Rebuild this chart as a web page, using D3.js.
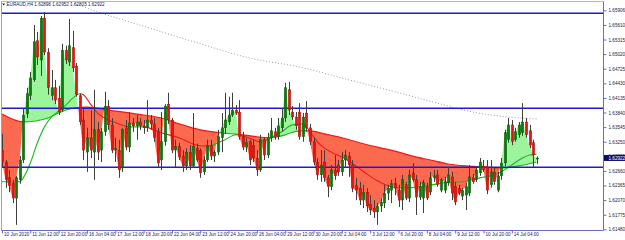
<!DOCTYPE html>
<html>
<head>
<meta charset="utf-8">
<script src="https://cdnjs.cloudflare.com/ajax/libs/d3/7.8.5/d3.min.js"></script>
<style>
  body { margin: 0; background: #fff; }
  svg { display: block; }
  text { font-family: 'Liberation Sans', Arial, sans-serif; }
</style>
</head>
<body>
<div id="chart"></div>
<script>
/**************************
*   EURAUD H4 CANDLES     *
**************************/

var symbol = "EURAUD,H4";
var lastQuote = [1.62898, 1.62952, 1.62805, 1.62922];

var timeLabels = ["10 Jun 2020", "11 Jun 12:00", "12 Jun 20:00", "16 Jun 04:00", "17 Jun 12:00",
  "18 Jun 20:00", "22 Jun 04:00", "23 Jun 12:00", "24 Jun 20:00", "26 Jun 04:00", "29 Jun 12:00",
  "30 Jun 20:00", "2 Jul 04:00", "3 Jul 12:00", "6 Jul 20:00", "8 Jul 04:00", "9 Jul 12:00",
  "10 Jul 20:00", "14 Jul 04:00"];

var priceTicks = [1.65906, 1.65610, 1.65315, 1.65020, 1.64725, 1.64430, 1.64135, 1.63840,
  1.63545, 1.63250, 1.62955, 1.62660, 1.62365, 1.62070, 1.61775, 1.61480];

// horizontal lines drawn on the chart
var levels = [1.65845, 1.63925, 1.62733];

var opens = [
  1.6308,1.6284,1.6252,1.6240,1.6211,1.6248,1.6288,1.6381,1.6418,1.6450,
  1.6529,1.6490,1.6575,1.6506,1.6418,1.6434,1.6413,1.6389,1.6510,1.6486,
  1.6515,1.6478,1.6418,1.6369,1.6304,1.6333,1.6304,1.6349,1.6308,1.6345,
  1.6397,1.6359,1.6308,1.6308,1.6272,1.6353,1.6314,1.6363,1.6357,1.6365,
  1.6357,1.6353,1.6369,1.6361,1.6345,1.6288,1.6325,1.6401,1.6369,1.6308,
  1.6316,1.6296,1.6276,1.6304,1.6276,1.6312,1.6308,1.6264,1.6288,1.6318,
  1.6296,1.6304,1.6333,1.6353,1.6365,1.6379,1.6389,1.6385,1.6335,1.6314,
  1.6325,1.6318,1.6292,1.6268,1.6329,1.6298,1.6333,1.6345,1.6335,1.6353,
  1.6373,1.6430,1.6385,1.6375,1.6385,1.6335,1.6383,1.6353,1.6325,1.6284,
  1.6258,1.6284,1.6252,1.6234,1.6268,1.6278,1.6264,1.6288,1.6296,1.6278,
  1.6236,1.6231,1.6207,1.6223,1.6199,1.6191,1.6183,1.6195,1.6201,1.6221,
  1.6227,1.6240,1.6227,1.6207,1.6238,1.6211,1.6262,1.6248,1.6213,1.6211,
  1.6234,1.6223,1.6252,1.6258,1.6227,1.6227,1.6242,1.6254,1.6234,1.6231,
  1.6215,1.6217,1.6221,1.6252,1.6248,1.6262,1.6276,1.6274,1.6238,1.6264,
  1.6227,1.6256,1.6282,1.6329,1.6359,1.6329,1.6339,1.6343,1.6365,1.6347,
  1.6323,1.62898];

var highs = [
  1.6341,1.6288,1.6268,1.6248,1.6256,1.6296,1.6393,1.6434,1.6466,1.6561,
  1.6547,1.6579,1.6587,1.6514,1.6470,1.6450,1.6438,1.6523,1.6519,1.6573,
  1.6549,1.6484,1.6422,1.6393,1.6353,1.6389,1.6430,1.6365,1.6353,1.6426,
  1.6409,1.6373,1.6333,1.6329,1.6353,1.6369,1.6385,1.6373,1.6379,1.6373,
  1.6369,1.6409,1.6379,1.6373,1.6353,1.6385,1.6401,1.6424,1.6373,1.6329,
  1.6323,1.6308,1.6312,1.6318,1.6383,1.6321,1.6312,1.6296,1.6329,1.6329,
  1.6308,1.6349,1.6383,1.6424,1.6416,1.6424,1.6399,1.6409,1.6345,1.6333,
  1.6329,1.6329,1.6308,1.6339,1.6333,1.6343,1.6373,1.6353,1.6373,1.6393,
  1.6444,1.6446,1.6397,1.6385,1.6403,1.6383,1.6407,1.6361,1.6333,1.6292,
  1.6308,1.6308,1.6258,1.6278,1.6298,1.6288,1.6304,1.6308,1.6304,1.6288,
  1.6252,1.6244,1.6238,1.6231,1.6217,1.6207,1.6201,1.6211,1.6238,1.6238,
  1.6248,1.6252,1.6238,1.6258,1.6244,1.6268,1.6282,1.6258,1.6244,1.6248,
  1.6242,1.6264,1.6268,1.6268,1.6252,1.6254,1.6274,1.6264,1.6244,1.6238,
  1.6231,1.6242,1.6278,1.6260,1.6272,1.6292,1.6288,1.6288,1.6288,1.6272,
  1.6264,1.6292,1.6349,1.6373,1.6369,1.6353,1.6365,1.6403,1.6373,1.6359,
  1.6329,1.62952];

var lows = [
  1.6272,1.6232,1.6223,1.6201,1.6157,1.6240,1.6282,1.6373,1.6409,1.6446,
  1.6480,1.6458,1.6500,1.6420,1.6409,1.6401,1.6379,1.6385,1.6482,1.6478,
  1.6466,1.6416,1.6359,1.6288,1.6264,1.6292,1.6248,1.6288,1.6284,1.6337,
  1.6349,1.6302,1.6284,1.6252,1.6264,1.6308,1.6304,1.6345,1.6329,1.6349,
  1.6341,1.6345,1.6349,1.6325,1.6272,1.6268,1.6317,1.6361,1.6302,1.6274,
  1.6288,1.6264,1.6268,1.6268,1.6272,1.6284,1.6252,1.6258,1.6284,1.6288,
  1.6284,1.6298,1.6304,1.6341,1.6359,1.6375,1.6379,1.6329,1.6308,1.6304,
  1.6278,1.6284,1.6256,1.6264,1.6288,1.6292,1.6325,1.6329,1.6329,1.6345,
  1.6365,1.6379,1.6369,1.6349,1.6329,1.6325,1.6345,1.6318,1.6278,1.6248,
  1.6244,1.6244,1.6213,1.6227,1.6248,1.6256,1.6256,1.6272,1.6254,1.6223,
  1.6207,1.6197,1.6191,1.6183,1.6177,1.6171,1.6157,1.6183,1.6191,1.6207,
  1.6201,1.6217,1.6193,1.6187,1.6207,1.6203,1.6244,1.6177,1.6207,1.6181,
  1.6207,1.6217,1.6244,1.6234,1.6223,1.6221,1.6236,1.6207,1.6197,1.6217,
  1.6207,1.6187,1.6215,1.6240,1.6244,1.6256,1.6264,1.6219,1.6232,1.6238,
  1.6223,1.6248,1.6276,1.6323,1.6318,1.6325,1.6333,1.6337,1.6333,1.6312,
  1.6274,1.62805];

var closes = [
  1.6284,1.6248,1.6236,1.6211,1.6252,1.6288,1.6379,1.6422,1.6454,1.6527,
  1.6496,1.6575,1.6506,1.6434,1.6434,1.6409,1.6385,1.6510,1.6490,1.6519,
  1.6474,1.6420,1.6365,1.6308,1.6333,1.6308,1.6349,1.6304,1.6345,1.6397,
  1.6359,1.6308,1.6312,1.6268,1.6349,1.6314,1.6363,1.6357,1.6365,1.6357,
  1.6353,1.6369,1.6361,1.6333,1.6282,1.6325,1.6397,1.6369,1.6308,1.6316,
  1.6294,1.6276,1.6304,1.6276,1.6316,1.6288,1.6262,1.6288,1.6318,1.6296,
  1.6304,1.6335,1.6353,1.6369,1.6379,1.6389,1.6383,1.6335,1.6314,1.6323,
  1.6288,1.6292,1.6268,1.6329,1.6298,1.6333,1.6347,1.6335,1.6357,1.6373,
  1.6434,1.6389,1.6375,1.6357,1.6335,1.6375,1.6353,1.6325,1.6284,1.6258,
  1.6278,1.6252,1.6234,1.6268,1.6256,1.6264,1.6288,1.6298,1.6278,1.6231,
  1.6227,1.6207,1.6223,1.6195,1.6187,1.6183,1.6195,1.6203,1.6221,1.6231,
  1.6240,1.6231,1.6207,1.6248,1.6211,1.6258,1.6248,1.6213,1.6234,1.6242,
  1.6211,1.6252,1.6256,1.6238,1.6248,1.6244,1.6258,1.6221,1.6203,1.6221,
  1.6227,1.6234,1.6254,1.6244,1.6268,1.6284,1.6268,1.6227,1.6264,1.6244,
  1.6256,1.6282,1.6343,1.6359,1.6325,1.6345,1.6359,1.6365,1.6339,1.6318,
  1.6298,1.62922];

// slow average (edge of the coloured band), read at these bars
var maSlowIdx = [0,6,13,16,20,24,30,40,45,50,56,62,68,72,76,80,84,87,91,96,101,106,111,116,121,126,131,136,141,146,151];
var maSlow = [1.6381,1.6365,1.6373,1.6383,1.6393,1.6395,1.6389,1.6379,1.6373,1.6361,1.6349,1.6343,1.6339,1.6335,1.6333,
  1.6339,1.6347,1.6347,1.6341,1.6333,1.6323,1.6314,1.6306,1.6296,1.6288,1.6280,1.6276,1.6274,1.6272,1.6276,1.6284];

// faster average (green when rising, red when falling)
var maFastIdx = [0,5,6,8,10,12,14,16,18,20,22,23,25,27,30,33,36,40,45,50,55,58,61,63,66,68,71,73,76,79,
  82,85,86,88,90,93,96,100,103,106,109,112,115,120,125,130,135,138,141,144,147,149,151];
var maFast = [1.6244,1.6244,1.6252,1.6282,1.6323,1.6355,1.6375,1.6387,1.6399,1.6413,1.6422,1.6420,1.6401,1.6383,1.6369,
  1.6361,1.6355,1.6355,1.6343,1.6333,1.6318,1.6316,1.6323,1.6329,1.6339,1.6337,1.6329,1.6325,1.6333,1.6345,
  1.6359,1.6361,1.6355,1.6335,1.6318,1.6304,1.6294,1.6276,1.6260,1.6246,1.6236,1.6232,1.6232,1.6236,1.6242,
  1.6244,1.6252,1.6256,1.6264,1.6278,1.6292,1.6298,1.6300];

// long average (dotted grey)
var maLongIdx = [0,10,20,28,37,46,56,70,84,98,112,124,133,143,151];
var maLong = [1.6648,1.6628,1.6605,1.6585,1.6565,1.6545,1.6523,1.6494,1.6476,1.6450,1.6424,1.6401,1.6385,1.6375,1.6371];


var width = 625, height = 240;
var plot = {left: 1.5, top: 1.5, right: 603.5, bottom: 230.5};
var n = closes.length;

var green = "#9cf59c", red = "#fb6a4f";
var lineGreen = "#1fb51f", lineRed = "#ee1c14";

var x = d3.scaleLinear().domain([0, n - 1]).range([2, 536.6]);
var y = d3.scaleLinear().domain([1.61480, 1.65906]).range([229.3, 10.3]);

var svg = d3.select("#chart")
  .append("svg")
  .attr("width", width)
  .attr("height", height);

var defs = svg.append("defs");
function clip(id) { return defs.append("clipPath").attr("id", id); }

clip("plotArea").append("rect")
  .attr("x", plot.left).attr("y", plot.top)
  .attr("width", plot.right - plot.left)
  .attr("height", plot.bottom - plot.top);

/****** CLIP REGIONS ABOVE / BELOW SLOW AVERAGE AND CLOSE ******/
var slowPts = maSlowIdx.map(function(d, i) { return [x(d), y(maSlow[i])]; });
var closePts = closes.map(function(d, i) { return [x(i), y(d)]; });

function areaTo(edge, curve) {
  return d3.area().x(function(d) { return d[0]; }).y0(edge).y1(function(d) { return d[1]; }).curve(curve);
}
clip("aboveSlow").append("path").attr("d", areaTo(0, d3.curveMonotoneX)(slowPts));
clip("belowSlow").append("path").attr("d", areaTo(height, d3.curveMonotoneX)(slowPts));
clip("aboveClose").append("path").attr("d", areaTo(0, d3.curveLinear)(closePts));
clip("belowClose").append("path").attr("d", areaTo(height, d3.curveLinear)(closePts));

// rising / falling parts of the fast average
var upClip = clip("fastUp"), downClip = clip("fastDown");
maFastIdx.forEach(function(d, k) {
  if (k == maFastIdx.length - 1) return;
  var target = maFast[k + 1] >= maFast[k] ? upClip : downClip;
  target.append("rect")
    .attr("x", x(d) - 0.2)
    .attr("y", 0)
    .attr("width", x(maFastIdx[k + 1]) - x(d) + 0.4)
    .attr("height", height);
});

var g = svg.append("g").attr("clip-path", "url(#plotArea)");

/****** BAND BETWEEN CLOSE AND SLOW AVERAGE ******/
g.append("g").attr("clip-path", "url(#aboveSlow)")
  .append("g").attr("clip-path", "url(#belowClose)")
  .append("rect").attr("x", 0).attr("y", 0).attr("width", width).attr("height", height)
  .attr("fill", green);

g.append("g").attr("clip-path", "url(#belowSlow)")
  .append("g").attr("clip-path", "url(#aboveClose)")
  .append("rect").attr("x", 0).attr("y", 0).attr("width", width).attr("height", height)
  .attr("fill", red);

var slowLine = d3.line().curve(d3.curveMonotoneX)(slowPts);
g.append("g").attr("clip-path", "url(#belowClose)")
  .append("path").attr("d", slowLine)
  .attr("fill", "none").attr("stroke", lineGreen).attr("stroke-width", 1.2);
g.append("g").attr("clip-path", "url(#aboveClose)")
  .append("path").attr("d", slowLine)
  .attr("fill", "none").attr("stroke", lineRed).attr("stroke-width", 1.2);

var fastLine = d3.line()
  .x(function(d) { return x(d); })
  .y(function(d, i) { return y(maFast[i]); })
  .curve(d3.curveMonotoneX)(maFastIdx);
g.append("g").attr("clip-path", "url(#fastUp)")
  .append("path").attr("d", fastLine)
  .attr("fill", "none").attr("stroke", lineGreen).attr("stroke-width", 1.1);
g.append("g").attr("clip-path", "url(#fastDown)")
  .append("path").attr("d", fastLine)
  .attr("fill", "none").attr("stroke", lineRed).attr("stroke-width", 1.1);

// long average, dotted
g.append("path")
  .attr("d", d3.line()
    .x(function(d) { return x(d); })
    .y(function(d, i) { return y(maLong[i]); })
    .curve(d3.curveMonotoneX)(maLongIdx))
  .attr("fill", "none")
  .attr("stroke", "#9c9c9c")
  .attr("stroke-width", 1)
  .attr("stroke-dasharray", "1,2");

/****** HORIZONTAL LEVELS ******/
g.selectAll(".level")
  .data(levels)
  .enter()
  .append("line")
    .attr("class", "level")
    .attr("x1", plot.left).attr("x2", plot.right)
    .attr("y1", function(d) { return y(d); })
    .attr("y2", function(d) { return y(d); })
    .attr("stroke", "#1a1ad8")
    .attr("stroke-width", 1.4);

/****** CANDLES ******/
var bodyW = 2.5;
var candles = g.selectAll(".candle")
  .data(closes)
  .enter()
  .append("g")
  .attr("class", "candle");

candles.append("line")
  .attr("x1", function(d, i) { return Math.round(x(i)) + 0.5; })
  .attr("x2", function(d, i) { return Math.round(x(i)) + 0.5; })
  .attr("y1", function(d, i) { return y(highs[i]); })
  .attr("y2", function(d, i) { return y(lows[i]); })
  .attr("stroke", "#3f3f3f")
  .attr("stroke-width", 1);

candles.append("rect")
  .attr("x", function(d, i) { return Math.round(x(i)) + 0.5 - bodyW / 2; })
  .attr("y", function(d, i) { return y(Math.max(opens[i], d)); })
  .attr("width", bodyW)
  .attr("height", function(d, i) { return Math.max(0.8, Math.abs(y(opens[i]) - y(d))); })
  .attr("fill", function(d, i) { return d >= opens[i] ? "#0a7a0a" : "#e6130e"; })
  .attr("stroke", function(d, i) { return d >= opens[i] ? "#064d06" : "#8a0a06"; })
  .attr("stroke-width", 0.3);

/****** FRAME ******/
svg.append("line").attr("x1", plot.left).attr("x2", plot.right).attr("y1", plot.top).attr("y2", plot.top)
  .attr("stroke", "#b4b4e2").attr("stroke-width", 1);
svg.append("line").attr("x1", plot.left).attr("x2", plot.left).attr("y1", plot.top).attr("y2", plot.bottom)
  .attr("stroke", "#9a9ad8").attr("stroke-width", 1);
svg.append("line").attr("x1", plot.right).attr("x2", plot.right).attr("y1", plot.top).attr("y2", plot.bottom)
  .attr("stroke", "#6a6acc").attr("stroke-width", 1);
svg.append("line").attr("x1", plot.left).attr("x2", plot.right).attr("y1", plot.bottom).attr("y2", plot.bottom)
  .attr("stroke", "#6a6acc").attr("stroke-width", 1);

/****** AXES ******/
var yAxis = d3.axisRight(y)
  .tickValues(priceTicks)
  .tickSize(3)
  .tickFormat(d3.format(".5f"));

svg.append("g")
  .attr("transform", "translate(" + plot.right + ",0)")
  .attr("color", "#6a6acc")
  .call(yAxis)
  .call(function(a) { a.select(".domain").remove(); })
  .selectAll("text")
    .attr("x", 5)
    .attr("fill", "#1a1a4a")
    .style("font-size", "4.6px")
    .style("font-family", "'Liberation Sans', Arial, sans-serif");

var xAxis = d3.axisBottom(x)
  .tickValues(d3.range(0, n, 8))
  .tickSize(3)
  .tickFormat(function(d, i) { return timeLabels[i]; });

svg.append("g")
  .attr("transform", "translate(0," + plot.bottom + ")")
  .attr("color", "#6a6acc")
  .call(xAxis)
  .call(function(a) { a.select(".domain").remove(); })
  .selectAll("text")
    .attr("text-anchor", "start")
    .attr("x", 1.5)
    .attr("y", 2.6)
    .attr("fill", "#1a1a4a")
    .style("font-size", "4.6px")
    .style("font-family", "'Liberation Sans', Arial, sans-serif");

/****** CURRENT PRICE & TITLE ******/
var last = lastQuote[3];
svg.append("rect")
  .attr("x", plot.right + 0.5)
  .attr("y", y(last) - 3)
  .attr("width", width - plot.right)
  .attr("height", 6)
  .attr("fill", "#0d0d6e");
svg.append("text")
  .attr("x", plot.right + 5)
  .attr("y", y(last))
  .attr("dy", "0.34em")
  .attr("fill", "#ffffff")
  .style("font-size", "4.6px")
  .text(d3.format(".5f")(last));

svg.append("path")
  .attr("d", "M2.2,3.6 L5.2,3.6 L3.7,5.6 Z")
  .attr("fill", "#1a1a4a");

svg.append("text")
  .attr("x", 6.5)
  .attr("y", 6.4)
  .attr("fill", "#1a1a4a")
  .style("font-size", "4.6px")
  .text(symbol + "  " + lastQuote.map(d3.format(".5f")).join("  "));
</script>
</body>
</html>
